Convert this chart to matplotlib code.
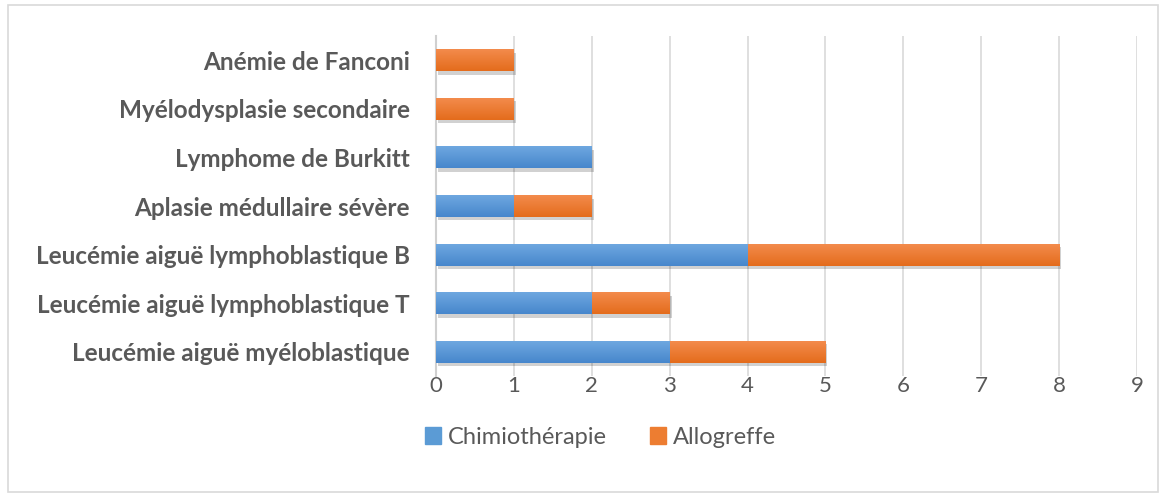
import matplotlib
matplotlib.use("Agg")
import matplotlib.pyplot as plt
import matplotlib.patheffects as pe
import numpy as np
from matplotlib.colors import LinearSegmentedColormap
from matplotlib.patches import Rectangle

categories = [
    "Leucémie aiguë myéloblastique",
    "Leucémie aiguë lymphoblastique T",
    "Leucémie aiguë lymphoblastique B",
    "Aplasie médullaire sévère",
    "Lymphome de Burkitt",
    "Myélodysplasie secondaire",
    "Anémie de Fanconi",
]
chimio = [3, 2, 4, 1, 2, 0, 0]
allogreffe = [2, 1, 4, 1, 0, 1, 1]
x_ticks = list(range(0, 10))

blue = "#5B9BD5"
orange = "#ED7D31"
blue_grad = LinearSegmentedColormap.from_list("b", ["#4787CC", "#6EA7E0"])
orange_grad = LinearSegmentedColormap.from_list("o", ["#E46C1C", "#F38B4C"])
text_color = "#595959"

plt.rcParams["font.family"] = ["Lato", "DejaVu Sans"]

fig = plt.figure(figsize=(11.66, 4.97), dpi=100)
ax = fig.add_axes([0.374, 0.243, 0.601, 0.685])

shadow = [pe.SimplePatchShadow(offset=(1.5, -2.5), shadow_rgbFace="#000000", alpha=0.18), pe.Normal()]

y = range(len(categories))
b1 = ax.barh(y, chimio, height=0.45, color=blue, zorder=3)
b2 = ax.barh(y, allogreffe, left=chimio, height=0.45, color=orange, zorder=3)

grad = np.linspace(0, 1, 64).reshape(-1, 1)
for bars, cmap in [(b1, blue_grad), (b2, orange_grad)]:
    for bar in bars:
        if bar.get_width() <= 0:
            continue
        bar.set_path_effects(shadow)
        x0, y0 = bar.get_x(), bar.get_y()
        im = ax.imshow(grad, cmap=cmap, aspect="auto", origin="lower",
                       extent=(x0, x0 + bar.get_width(), y0, y0 + bar.get_height()),
                       zorder=3.5)
        im.set_clip_path(bar)

ax.set_xlim(0, 9)
ax.set_ylim(-0.5, len(categories) - 0.5)
ax.set_xticks(x_ticks)
ax.set_yticks(list(y))
ax.set_yticklabels(categories, fontsize=17.5, fontweight="bold", color=text_color)
ax.tick_params(axis="x", labelsize=16, colors=text_color, length=0, pad=0)
ax.tick_params(axis="y", length=0, pad=19)
ax.grid(axis="x", color="#d9d9d9", linewidth=1.2, zorder=0)

for side in ["top", "right", "bottom"]:
    ax.spines[side].set_visible(False)
ax.spines["left"].set_color("#d0d0d0")
ax.spines["left"].set_linewidth(1.5)

handles = [Rectangle((0, 0), 1, 1, color=blue), Rectangle((0, 0), 1, 1, color=orange)]
leg = fig.legend(handles, ["Chimiothérapie", "Allogreffe"], loc="center",
                 bbox_to_anchor=(0.515, 0.12), ncol=2, frameon=False,
                 fontsize=17, handlelength=0.7, handleheight=0.7,
                 handletextpad=0.3, columnspacing=1.8)
for t in leg.get_texts():
    t.set_color(text_color)

fig.patches.append(Rectangle((0.007, 0.01), 0.986, 0.98, transform=fig.transFigure,
                             fill=False, edgecolor="#d9d9d9", linewidth=1.2))

fig.savefig("out.png", dpi=100, facecolor="white")
